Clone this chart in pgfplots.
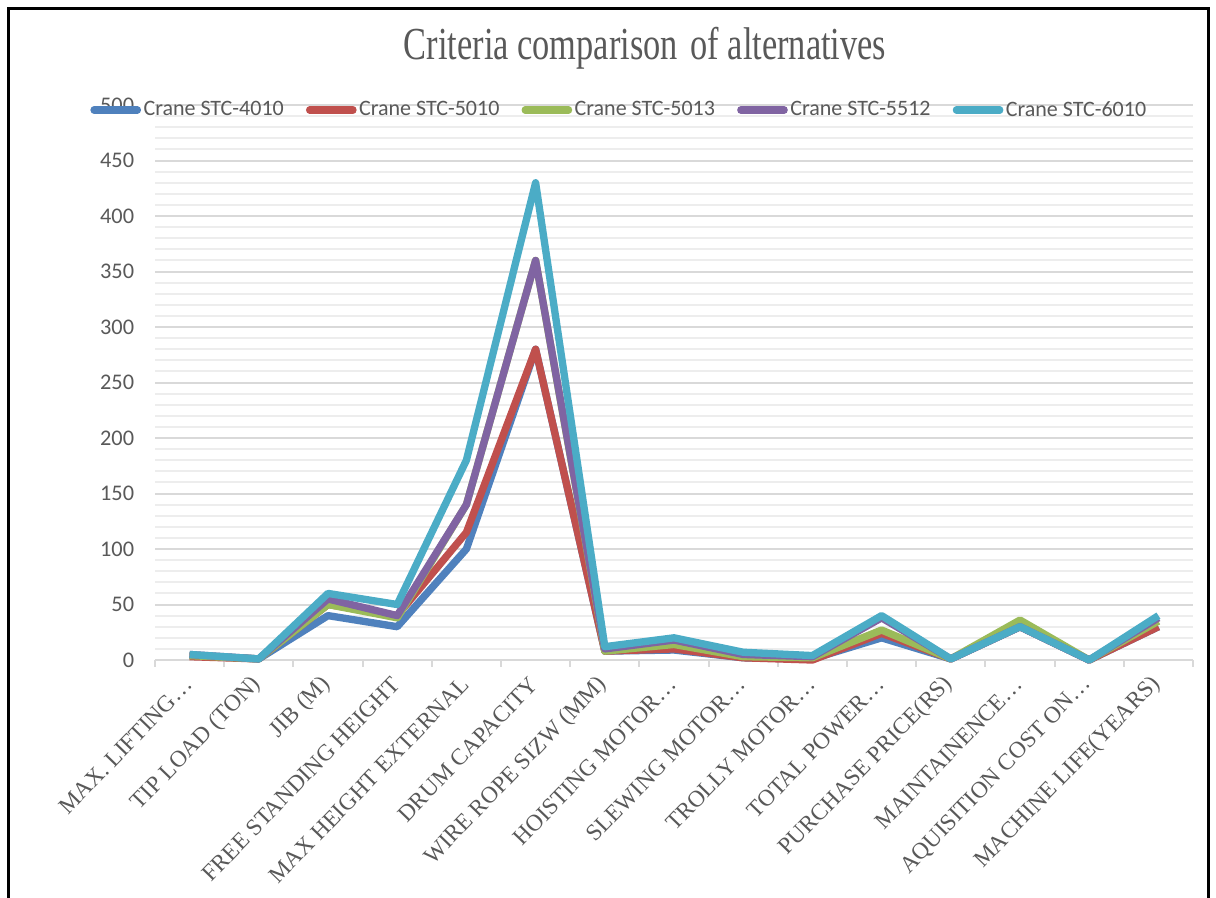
\documentclass[border=0pt]{standalone}
\usepackage{pgfplots}
\pgfplotsset{compat=1.18}
\usepackage{pgfplotstable}
\usepackage{fontspec}
\setmainfont{Liberation Serif}
\newfontfamily\carlito{Carlito}

\definecolor{sBlue}{HTML}{4F81BD}
\definecolor{sRed}{HTML}{C0504D}
\definecolor{sGreen}{HTML}{9BBB59}
\definecolor{sPurple}{HTML}{8064A2}
\definecolor{sCyan}{HTML}{4BACC6}
\definecolor{txtgray}{HTML}{595959}
\definecolor{gridmaj}{HTML}{D9D9D9}
\definecolor{gridmin}{HTML}{EDEDED}

% criteria values for each crane model
\pgfplotstableread{
idx  a    b    c    d    e
0    4    3    4    5    5
1    1    1    1    1    1
2    40   50   50   55   60
3    30   40   38   40   50
4    100  115  140  140  180
5    280  280  360  360  430
6    8    8    8    10   12
7    9    10   14   18   20
8    2    2    3    5    7
9    1    0    2    3    4
10   20   24   27   38   40
11   1    1    1    1    1
12   30   30   36   30   30
13   0    0    0    0    0
14   30   30   35   38   40
}\cranedata

\begin{document}
\begin{tikzpicture}
\useasboundingbox (0,0) rectangle (729.6pt,-538.2pt);
\begin{scope}
  \clip (0,0) rectangle (729.6pt,-538.2pt);
  \fill[white] (0,0) rectangle (729.6pt,-538.2pt);
  \draw[line width=1.8pt, black] (4.8pt,-4.8pt) rectangle (724.8pt,-560pt);
\end{scope}

\node[text=txtgray, font=\fontsize{27.5}{30}\selectfont, inner sep=0pt]
  at (387pt,-29pt) {\scalebox{0.75}[1]{Criteria comparison\hspace{0.12em} of alternatives}};

\begin{axis}[
  at={(93pt,-396pt)}, anchor=south west,
  scale only axis, width=622.8pt, height=333pt,
  xmin=-0.5, xmax=14.5, ymin=0, ymax=500,
  clip=false,
  axis x line*=bottom, axis y line*=left,
  x axis line style={draw=gridmaj, line width=1.2pt},
  y axis line style={draw=none},
  tick align=outside,
  ytick={0,50,...,500}, minor y tick num=4,
  ymajorgrids, yminorgrids,
  major grid style={draw=gridmaj, line width=1.2pt},
  minor grid style={draw=gridmin, line width=1.2pt},
  major tick length=0pt, minor tick length=4pt,
  minor y tick style={draw=none},
  minor x tick style={draw=gridmaj, line width=1.2pt},
  xtick={0,...,14},
  minor xtick={-0.5,0.5,...,14.5},
  xticklabels={MAX. LIFTING…, TIP LOAD (TON), JIB (M), FREE STANDING HEIGHT, MAX HEIGHT EXTERNAL, DRUM CAPACITY, WIRE ROPE SIZW (MM), HOISTING MOTOR…, SLEWING MOTOR…, TROLLY MOTOR…, TOTAL POWER…, PURCHASE PRICE(RS), MAINTAINENCE…, AQUISITION COST ON…, MACHINE LIFE(YEARS)},
  xticklabel style={font=\fontsize{14}{16}\selectfont, text=txtgray,
    xshift=1.5pt, yshift=-10pt, rotate=46, anchor=east},
  yticklabel style={font=\carlito\fontsize{13.4}{15}\selectfont, text=txtgray, xshift=-9pt},
  /pgf/number format/assume math mode=true,
  legend columns=5,
  legend cell align=left,
  legend style={at={(axis description cs:-0.0674,0.991)}, anchor=west,
    draw=none, fill=none, text=txtgray,
    font=\carlito\fontsize{13.2}{15}\selectfont,
    nodes={inner sep=1.5pt},
    /tikz/every even column/.append style={column sep=11.8pt}},
  legend image code/.code={\draw[#1, line cap=round] (2pt,0pt) -- (28pt,0pt);},
  every axis plot/.append style={line width=4.4pt, line join=round, mark=none},
]
\addplot[sBlue]   table[x=idx, y=a] {\cranedata};
\addlegendentry{Crane STC-4010}
\addplot[sRed]    table[x=idx, y=b] {\cranedata};
\addlegendentry{Crane STC-5010}
\addplot[sGreen]  table[x=idx, y=c] {\cranedata};
\addlegendentry{Crane STC-5013}
\addplot[sPurple] table[x=idx, y=d] {\cranedata};
\addlegendentry{Crane STC-5512}
\addplot[sCyan]   table[x=idx, y=e] {\cranedata};
\addlegendentry{Crane STC-6010}
\end{axis}
\end{tikzpicture}
\end{document}
